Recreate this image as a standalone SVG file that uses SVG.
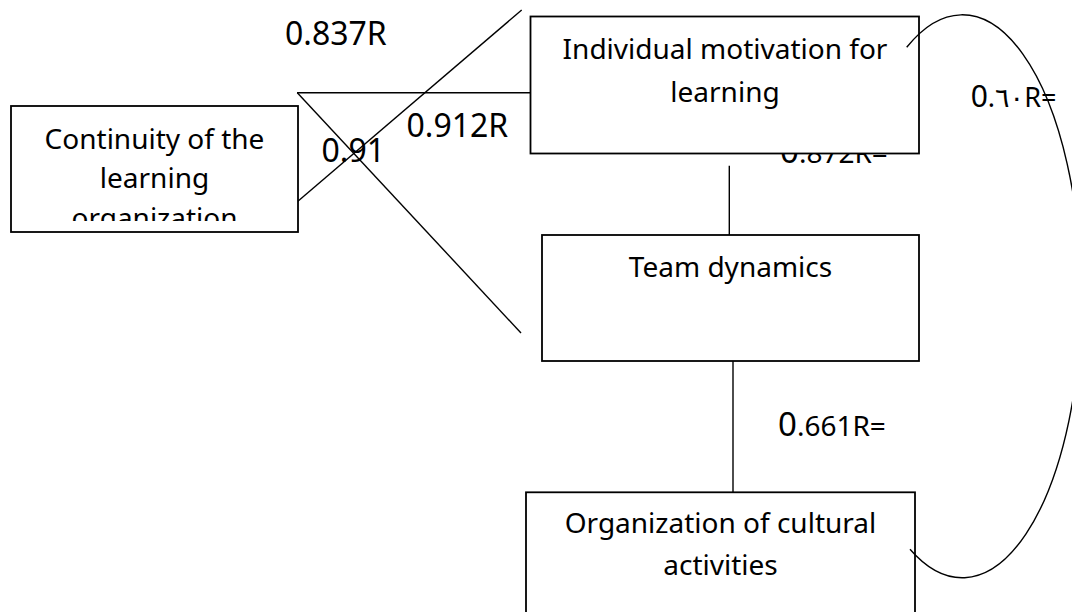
<svg xmlns="http://www.w3.org/2000/svg" width="1072" height="612" viewBox="0 0 1072 612">
<style>
  .box { fill: #ffffff; stroke: #000000; stroke-width: 1.8; }
  .t { font-family: "Noto Sans", "Open Sans", "DejaVu Sans", sans-serif; font-size: 28px; fill: #000000; text-anchor: middle; }
  .lbl { font-family: "Noto Sans", "Open Sans", "DejaVu Sans", sans-serif; font-size: 32px; fill: #000000; }
  .big { font-size: 33px; }
  .sm { font-size: 28px; }
  .ln { fill: none; stroke: #000000; stroke-width: 1.4; }
</style>
<defs>
  <clipPath id="clip1"><rect x="11" y="106" width="287" height="115"/></clipPath>
</defs>
<rect width="1072" height="612" fill="#ffffff"/>

<g id="labels-under">
  <text class="lbl" x="780" y="163"><tspan class="big">0</tspan><tspan class="sm">.872R=</tspan></text>
</g>

<g id="connectors">
  <line class="ln" x1="297" y1="92.7" x2="531" y2="92.7"/>
  <line class="ln" x1="521.7" y1="10" x2="297.3" y2="201.7"/>
  <line class="ln" x1="297.3" y1="92.7" x2="521" y2="333"/>
  <line class="ln" x1="729.3" y1="165.7" x2="729.3" y2="235"/>
  <line class="ln" x1="733" y1="361" x2="733" y2="492"/>
</g>

<g id="node-continuity">
  <rect class="box" x="11" y="106" width="287" height="126"/>
  <g clip-path="url(#clip1)">
    <text class="t" x="154.5" y="149">Continuity of the</text>
    <text class="t" x="154.5" y="188">learning</text>
    <text class="t" x="154.5" y="228">organization</text>
  </g>
</g>

<g id="node-individual">
  <rect class="box" x="530.5" y="16.5" width="388.5" height="137"/>
  <text class="t" x="725" y="59">Individual motivation for</text>
  <text class="t" x="725" y="102">learning</text>
</g>

<g id="node-team">
  <rect class="box" x="542" y="235" width="377" height="126"/>
  <text class="t" x="730.5" y="277">Team dynamics</text>
</g>

<g id="node-cultural">
  <rect class="box" x="526" y="492.3" width="389" height="140"/>
  <text class="t" x="720.5" y="533">Organization of cultural</text>
  <text class="t" x="720.5" y="575">activities</text>
</g>

<g id="labels">
  <text class="lbl" x="285" y="45">0.837R</text>
  <text class="lbl" x="406.5" y="137.3">0.912R</text>
  <text class="lbl" x="321.5" y="161.7">0.91</text>
  <text class="lbl" x="778" y="435.6"><tspan class="big">0</tspan><tspan class="sm">.661R=</tspan></text>
  <text class="lbl" x="970.7" y="106.7"><tspan style="font-size:30px">0</tspan><tspan style="font-size:27px">.٦٠R=</tspan></text>
</g>

<g id="curve">
  <path class="ln" d="M 906.7 47.3 A 119 281.5 0 1 1 910 549.3"/>
</g>
</svg>
